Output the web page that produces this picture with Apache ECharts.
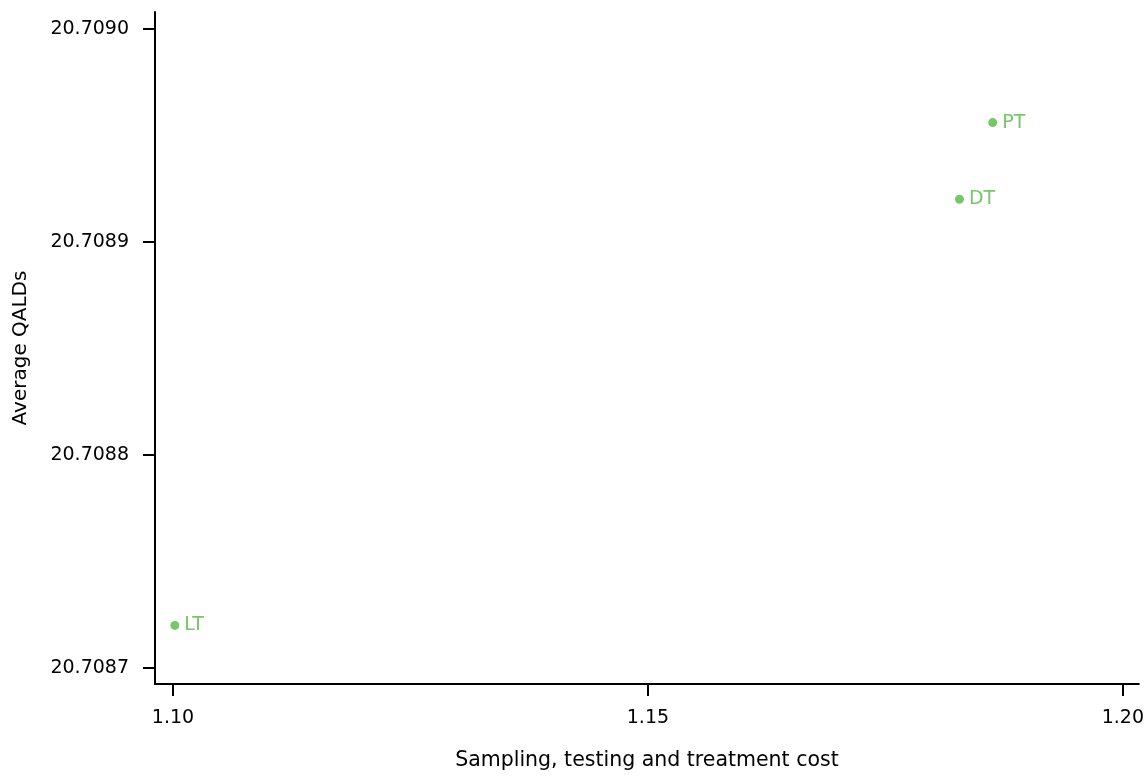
<!DOCTYPE html>
<html>
<head>
<meta charset="utf-8">
<script src="https://cdn.jsdelivr.net/npm/echarts@6/dist/echarts.min.js"></script>
<style>
html,body{margin:0;padding:0;background:#fff;overflow:hidden;}
#chart{width:1147px;height:776px;}
</style>
</head>
<body>
<div id="chart"></div>
<script>
const names = ['LT', 'DT', 'PT'];
const costs = [1.1002, 1.1828, 1.1863];
const qalds = [20.70872, 20.70892, 20.708956];
const xTicks = [1.10, 1.15, 1.20];
const yTicks = [20.7087, 20.7088, 20.7089, 20.7090];

const green = '#52b944';
const font = '"DejaVu Sans", "Open Sans", sans-serif';
const fs = 19;
const data = names.map((n, i) => ({ name: n, value: [costs[i], qalds[i]] }));

const chart = echarts.init(document.getElementById('chart'));
chart.setOption({
  animation: false,
  grid: { left: 155, top: 12, right: 7, bottom: 88, containLabel: false },
  xAxis: {
    type: 'value',
    min: 1.09811, max: 1.20168,
    name: 'Sampling, testing and treatment cost',
    nameLocation: 'middle', nameGap: 66,
    nameTextStyle: { fontFamily: font, fontSize: 20.5, color: '#000' },
    axisLine: { show: true, onZero: false, lineStyle: { color: '#000', width: 2 } },
    axisTick: { show: true, length: 12, customValues: xTicks, lineStyle: { color: '#000', width: 2 } },
    axisLabel: { customValues: xTicks, fontFamily: font, fontSize: fs, color: '#000', margin: 25,
      formatter: v => v.toFixed(2) },
    splitLine: { show: false }
  },
  yAxis: {
    type: 'value',
    min: 20.7086925, max: 20.7090079,
    name: 'Average QALDs',
    nameLocation: 'middle', nameGap: 124, nameRotate: 90,
    nameTextStyle: { fontFamily: font, fontSize: 20, color: '#000' },
    axisLine: { show: true, onZero: false, lineStyle: { color: '#000', width: 2 } },
    axisTick: { show: true, length: 12, customValues: yTicks, lineStyle: { color: '#000', width: 2 } },
    axisLabel: { customValues: yTicks, fontFamily: font, fontSize: fs, color: '#000', margin: 26,
      formatter: v => v.toFixed(4) },
    splitLine: { show: false }
  },
  series: [{
    type: 'scatter',
    data: data,
    symbol: 'circle',
    symbolSize: 9,
    itemStyle: { color: green },
    label: { show: true, position: 'right', distance: 5, formatter: p => p.name,
      fontFamily: font, fontSize: fs, color: green }
  }]
});
</script>
</body>
</html>
